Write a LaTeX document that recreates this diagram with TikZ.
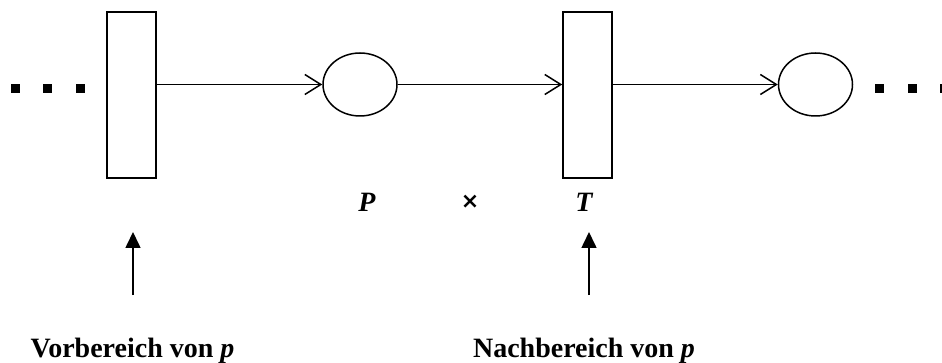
\documentclass[tikz,border=0pt]{standalone}
\usepackage{fontspec}
\setmainfont{Liberation Serif}
\newfontfamily\crossfont{DejaVu Sans}
\usetikzlibrary{arrows.meta,positioning,shapes.geometric}

\begin{document}
\begin{tikzpicture}[
    x=1pt, y=-1pt,
    transition/.style={draw, line width=1.6pt, minimum width=49pt, minimum height=166pt, inner sep=0pt},
    place/.style={draw, ellipse, line width=1.5pt, minimum width=74pt, minimum height=63pt, inner sep=0pt},
    dot/.style={fill, minimum size=9pt, inner sep=0pt},
    arc/.style={-{Straight Barb[length=16pt, width=20pt, line width=1.5pt]}, line width=1.4pt},
    pointer/.style={-{Triangle[length=16pt, width=15pt]}, line width=1.6pt},
    label/.style={font=\bfseries\fontsize{28}{32}\selectfont, inner sep=0pt, anchor=base}
  ]
    \useasboundingbox (0,0) rectangle (942,363);
    \node[transition] (pre) at (131.5,95) {};
    \node[place] (p) at (360,84.5) {};
    \node[transition] (post) at (587.5,95) {};
    \node[place] (next) at (815.5,84.5) {};
    \foreach \i/\x in {1/15.5, 2/47.5, 3/80.5}
      \node[dot] (dotL\i) at (\x,88.5) {};
    \foreach \i/\x in {1/879.5, 2/912.5, 3/944.5}
      \node[dot] (dotR\i) at (\x,88.5) {};
    \draw[arc] (pre.east |- p.west) -- (p.west);
    \draw[arc] (p.east) -- (p.east -| post.west);
    \draw[arc] (post.east |- next.west) -- (next.west);
    \node[label, font=\bfseries\itshape\fontsize{28}{32}\selectfont] (lblP) at (367,212) {P};
    \node[label, anchor=center, font=\crossfont\bfseries\fontsize{22}{24}\selectfont] (lblX) at (470,202) {×};
    \node[label, font=\bfseries\itshape\fontsize{28}{32}\selectfont] (lblT) at (584,212) {T};
    \coordinate (tailL) at (133,295);
    \coordinate (tipL) at (133,232);
    \coordinate (tailR) at (589,295);
    \coordinate (tipR) at (589,232);
    \draw[pointer] (tailL) -- (tipL);
    \draw[pointer] (tailR) -- (tipR);
    \node[label] (vor) at (132.5,357) {Vorbereich von \textit{p}};
    \node[label] (nach) at (584,357) {Nachbereich von \textit{p}};
  \end{tikzpicture}
\end{document}
